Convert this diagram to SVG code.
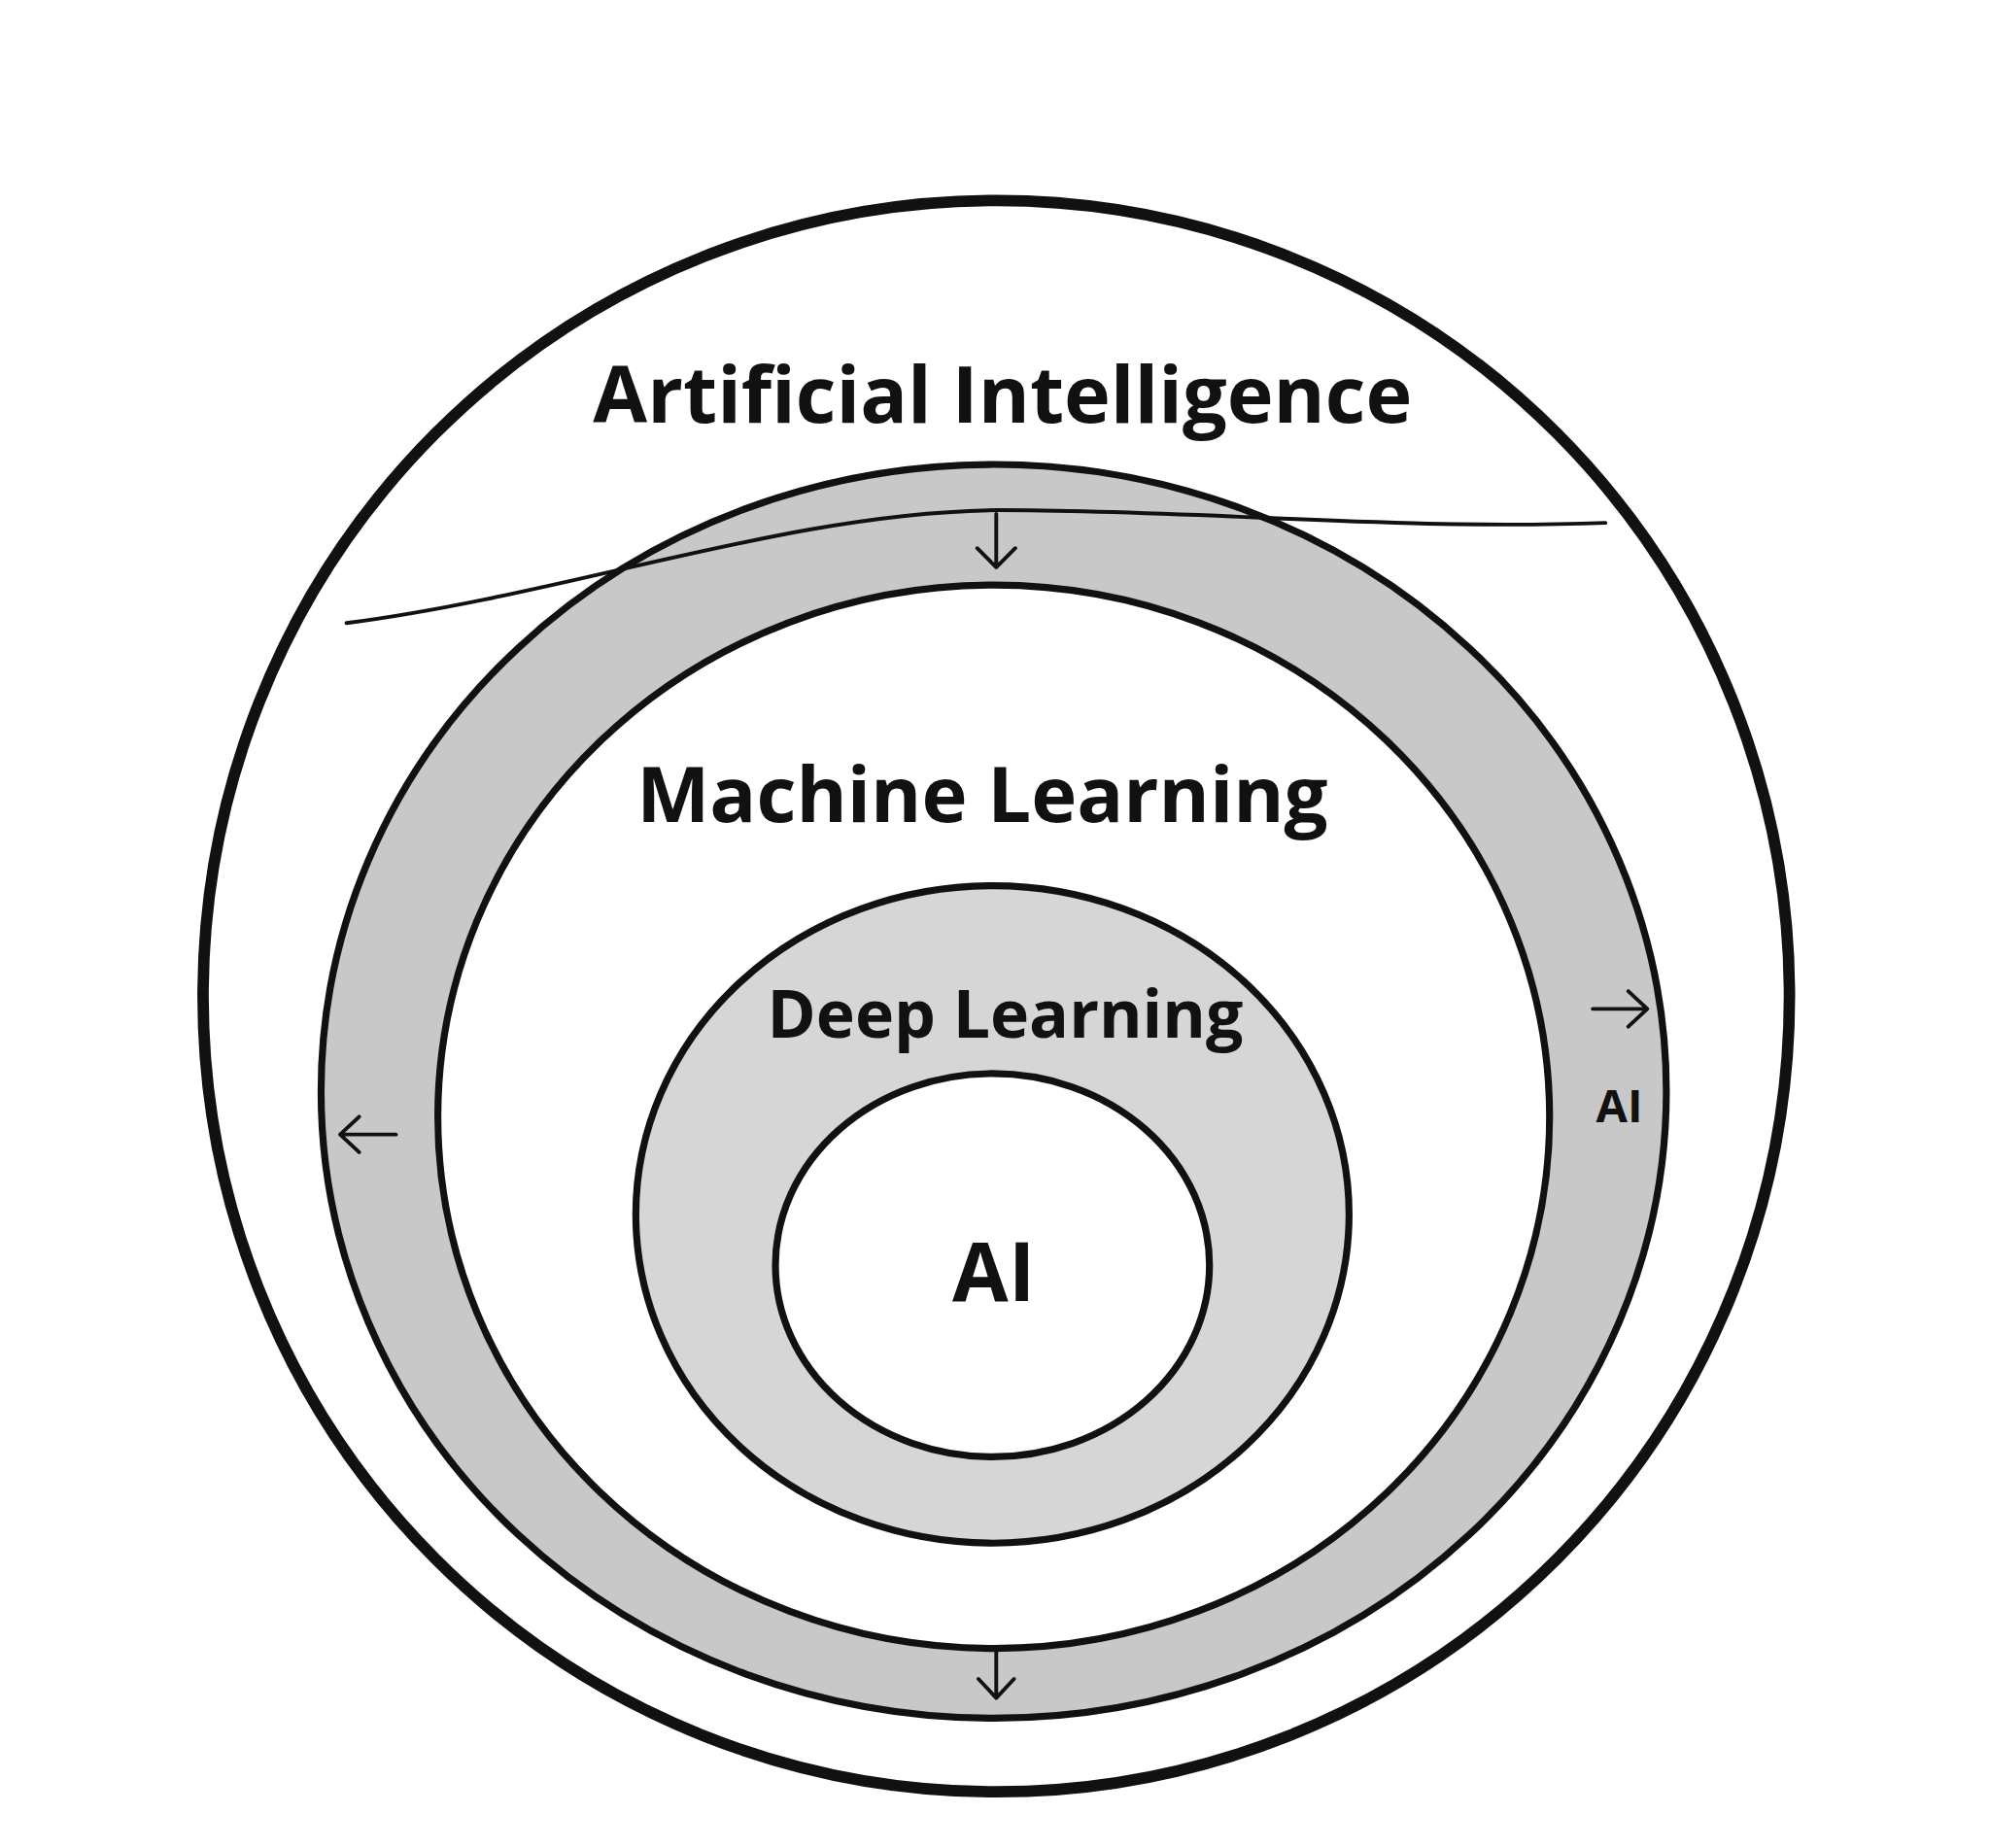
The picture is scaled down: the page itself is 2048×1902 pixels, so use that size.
<svg xmlns="http://www.w3.org/2000/svg" width="2048" height="1902" viewBox="0 0 2048 1902">
<defs>
<style>
.ring{stroke:#111;stroke-width:5.5;}
.t{font-family:"Open Sans","Noto Sans",sans-serif;font-weight:bold;fill:#111;text-anchor:middle;}
.c{fill:none;stroke:#111;stroke-width:3;stroke-linecap:round;stroke-linejoin:round;}
</style>
</defs>
<rect width="2048" height="1902" fill="#fff"/>
<g transform="scale(1.3061)">
<g id="ai-outer"><ellipse cx="785" cy="785" rx="625" ry="627" fill="#fff" stroke="#111" stroke-width="9"/>
<text class="t" x="790" y="333" font-size="62">Artificial Intelligence</text></g>
<g id="ml"><ellipse class="ring" cx="783" cy="860" rx="530" ry="494" fill="#c8c8c8"/>
<ellipse class="ring" cx="783" cy="880" rx="438" ry="419" fill="#fff"/>
<text class="t" x="774" y="648" font-size="61">Machine Learning</text></g>
<g id="dl"><ellipse class="ring" cx="782" cy="957" rx="281" ry="259" fill="#d6d6d6"/>
<text class="t" x="792" y="818" font-size="52">Deep Learning</text></g>
<g id="ai-core"><ellipse class="ring" cx="782" cy="997" rx="171" ry="151" fill="#fff"/>
<text class="t" x="783" y="1025" font-size="64">AI</text></g>
<g id="ai-label"><text class="t" x="1276" y="884" font-size="36">AI</text></g>
<g id="connectors">
<path class="c" d="M273,491 C450,468 620,404 785,402 C950,402 1100,418 1265,412"/>
<path class="c" d="M785,405 L785,447 M770,432 L785,447 L800,432"/>
<path class="c" d="M785,1300 L785,1338 M771,1323 L785,1338 L799,1323"/>
<path class="c" d="M1255,795 L1298,795 M1283,781 L1298,795 L1283,809"/>
<path class="c" d="M312,894 L268,894 M283,880 L268,894 L283,908"/>
</g>
</g>
</svg>
